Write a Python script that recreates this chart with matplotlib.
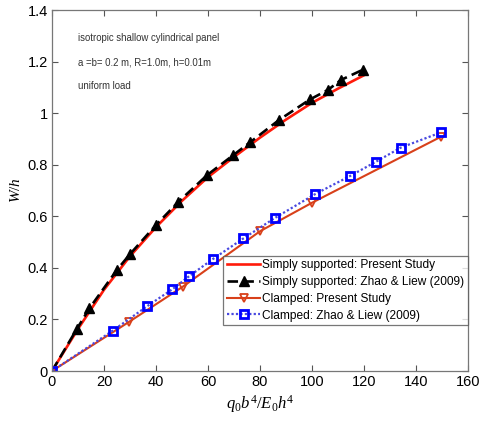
import matplotlib
matplotlib.use("Agg")
import matplotlib.pyplot as plt

# Simply supported
ss_present_x = [0, 10, 20, 30, 40, 50, 60, 70, 80, 90, 100, 110, 120]
ss_present_y = [0, 0.163, 0.315, 0.445, 0.558, 0.66, 0.752, 0.83, 0.905, 0.975, 1.04, 1.095, 1.147]
ss_zhao_x = [0, 9.5, 14.4, 24.9, 29.9, 40.0, 48.6, 59.7, 69.7, 76.2, 87.4, 99.2, 106.1, 111.2, 119.7]
ss_zhao_y = [0, 0.162, 0.243, 0.391, 0.452, 0.566, 0.656, 0.76, 0.837, 0.887, 0.974, 1.053, 1.09, 1.129, 1.169]

# Clamped
cl_present_x = [0, 29.7, 50.3, 80.0, 99.9, 149.5]
cl_present_y = [0, 0.191, 0.327, 0.542, 0.652, 0.908]
cl_zhao_x = [0, 23.3, 36.7, 46.3, 52.8, 62.0, 73.6, 85.8, 101.2, 114.6, 124.5, 134.1, 149.5]
cl_zhao_y = [0, 0.156, 0.252, 0.317, 0.368, 0.435, 0.514, 0.594, 0.686, 0.756, 0.811, 0.866, 0.925]

labels = ["Simply supported: Present Study",
          "Simply supported: Zhao & Liew (2009)",
          "Clamped: Present Study",
          "Clamped: Zhao & Liew (2009)"]

notes = ["isotropic shallow cylindrical panel",
         "a =b= 0.2 m, R=1.0m, h=0.01m",
         "uniform load"]

plt.rcParams['font.family'] = ['Liberation Sans', 'DejaVu Sans']
plt.rcParams['mathtext.fontset'] = 'custom'
plt.rcParams['mathtext.it'] = 'Liberation Serif:italic'
plt.rcParams['mathtext.rm'] = 'Liberation Serif'

fig = plt.figure(figsize=(4.81, 4.23), dpi=100)
ax = fig.add_axes([52 / 481, 1 - 371 / 423, 416 / 481, 361 / 423])

ax.plot(ss_present_x, ss_present_y, color='#ff1a0a', lw=1.9, label=labels[0])
ax.plot(ss_zhao_x, ss_zhao_y, color='black', lw=1.9, ls=(0, (4, 2)),
        marker='^', ms=6.5, mfc='black', mec='black', label=labels[1])
ax.plot(cl_present_x, cl_present_y, color='#d8401a', lw=1.5,
        marker='v', ms=6, mfc='none', mec='#d8401a', mew=1.3, label=labels[2])
ax.plot(cl_zhao_x, cl_zhao_y, color='#4848e0', lw=1.6, ls=(0, (1, 1)),
        marker='s', ms=6, mfc='none', mec='#0000ff', mew=2, label=labels[3])

ax.set_xlim(0, 160)
ax.set_ylim(0, 1.4)
ax.set_xticks(range(0, 161, 20))
ax.set_yticks([0, 0.2, 0.4, 0.6, 0.8, 1, 1.2, 1.4])
ax.set_yticklabels(['0', '0.2', '0.4', '0.6', '0.8', '1', '1.2', '1.4'])
ax.tick_params(direction='in', top=True, right=True, labelsize=10.5, length=4,
               color='#555555', pad=3)
for s in ax.spines.values():
    s.set_color('#777777')
    s.set_linewidth(0.9)

ax.set_xlabel(r'$q_0b^4/E_0h^4$', fontsize=12, labelpad=3)
ax.set_ylabel(r'$W/h$', fontsize=11, labelpad=3)

for i, note in enumerate(notes):
    ax.text(10, 1.291 - i * 0.093, note, fontsize=6.9, color='#333333', va='center')

leg = ax.legend(loc='lower right', bbox_to_anchor=(1.0, 0.127), fontsize=8.6,
                frameon=True, fancybox=False, handlelength=2.8, handletextpad=0.15,
                borderpad=0.3, labelspacing=0.4, borderaxespad=0)
leg.get_frame().set_edgecolor('#555555')
leg.get_frame().set_linewidth(0.9)

fig.savefig('out.png', dpi=100)
